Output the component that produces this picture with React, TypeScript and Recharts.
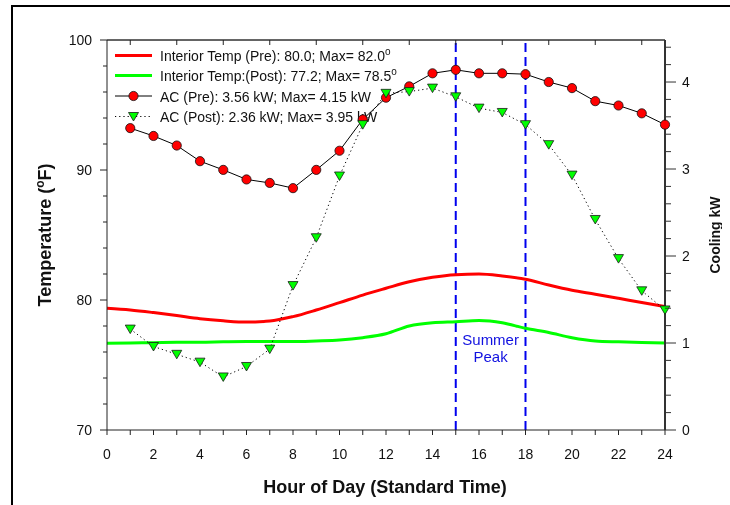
import React from 'react';
import { ComposedChart, Line, XAxis, YAxis, ReferenceLine, ReferenceArea } from 'recharts';

const FONT = '"Liberation Sans", Arial, Helvetica, sans-serif';

const hours = [0, 1, 2, 3, 4, 5, 6, 7, 8, 9, 10, 11, 12, 13, 14, 15, 16, 17, 18, 19, 20, 21, 22, 23, 24];
const tempPre = [79.36, 79.23, 79.03, 78.8, 78.56, 78.4, 78.3, 78.38, 78.72, 79.23, 79.8, 80.38, 80.9, 81.4, 81.75, 81.95, 82.0, 81.85, 81.6, 81.15, 80.75, 80.45, 80.13, 79.8, 79.49];
const tempPost = [76.67, 76.7, 76.72, 76.75, 76.75, 76.78, 76.8, 76.8, 76.8, 76.85, 76.92, 77.1, 77.4, 78.0, 78.25, 78.33, 78.42, 78.25, 77.82, 77.5, 77.1, 76.85, 76.78, 76.73, 76.69];
// AC values for hours 1..24
const acPre = [3.47, 3.38, 3.27, 3.09, 2.99, 2.88, 2.84, 2.78, 2.99, 3.21, 3.57, 3.82, 3.95, 4.1, 4.14, 4.1, 4.1, 4.09, 4.0, 3.93, 3.78, 3.73, 3.64, 3.51];
const acPost = [1.16, 0.96, 0.87, 0.78, 0.61, 0.73, 0.93, 1.66, 2.21, 2.92, 3.51, 3.87, 3.89, 3.93, 3.83, 3.7, 3.65, 3.51, 3.28, 2.93, 2.42, 1.97, 1.6, 1.38];

const xTicks = hours;
const xLabelTicks = [0, 2, 4, 6, 8, 10, 12, 14, 16, 18, 20, 22, 24];
const topTicks = [1, 3, 5, 7, 9, 11, 13, 15, 17, 19, 21, 23];
const tempTicks = [70, 72, 74, 76, 78, 80, 82, 84, 86, 88, 90, 92, 94, 96, 98, 100];
const tempLabelTicks = [70, 80, 90, 100];
const kwTicks = [0, 0.2, 0.4, 0.6, 0.8, 1, 1.2, 1.4, 1.6, 1.8, 2, 2.2, 2.4, 2.6, 2.8, 3, 3.2, 3.4, 3.6, 3.8, 4, 4.2, 4.4];
const kwLabelTicks = [0, 1, 2, 3, 4];
const tempDomain = [70, 100];
const kwDomain = [0, 4.483];
const peakStart = 15;
const peakEnd = 18;

const legendLabels = [
  ['Interior Temp (Pre): 80.0; Max= 82.0', 'o'],
  ['Interior Temp:(Post): 77.2; Max= 78.5', 'o'],
  ['AC (Pre): 3.56 kW; Max= 4.15 kW', ''],
  ['AC (Post): 2.36 kW; Max= 3.95 kW', ''],
];

const data = hours.map((h, i) => ({
  hour: h,
  tempPre: tempPre[i],
  tempPost: tempPost[i],
  acPre: i === 0 ? null : acPre[i - 1],
  acPost: i === 0 ? null : acPost[i - 1],
}));

const AX = '#222';

function BottomTick(props: any) {
  const { x, y, payload } = props;
  const v = payload.value;
  return (
    <g>
      <line x1={x} y1={y} x2={x} y2={y + 5} stroke={AX} strokeWidth={1} />
      {xLabelTicks.includes(v) && (
        <text x={x} y={y + 28.5} textAnchor="middle" fontSize={14} fontFamily={FONT} fill="#111">{v}</text>
      )}
    </g>
  );
}

function TopTick(props: any) {
  const { x, y } = props;
  return <line x1={x} y1={y} x2={x} y2={y + 5} stroke={AX} strokeWidth={1} />;
}

function LeftTick(props: any) {
  const { x, y, payload } = props;
  const v = payload.value;
  const major = tempLabelTicks.includes(v);
  return (
    <g>
      <line x1={x} y1={y} x2={x - (major ? 7 : 4)} y2={y} stroke={AX} strokeWidth={1} />
      {major && (
        <text x={x - 15} y={y + 5} textAnchor="end" fontSize={14} fontFamily={FONT} fill="#111">{v}</text>
      )}
    </g>
  );
}

function RightTick(props: any) {
  const { x, y, payload } = props;
  const v = payload.value;
  const major = Math.abs(v - Math.round(v)) < 1e-6 && kwLabelTicks.includes(Math.round(v));
  return (
    <g>
      <line x1={x} y1={y} x2={x + (major ? 11 : 6)} y2={y} stroke="#333" strokeWidth={1} />
      {major && (
        <text x={x + 17} y={y + 5} textAnchor="start" fontSize={14} fontFamily={FONT} fill="#111">{Math.round(v)}</text>
      )}
    </g>
  );
}

function TriangleDot(props: any) {
  const { cx, cy, index } = props;
  if (cx == null || cy == null || isNaN(cx) || isNaN(cy)) return <g key={`t${index}`} />;
  return (
    <path
      key={`t${index}`}
      d={`M${cx - 5},${cy - 4}L${cx + 5},${cy - 4}L${cx},${cy + 4.5}Z`}
      fill="#00ff00"
      stroke="#1a1a1a"
      strokeWidth={0.8}
    />
  );
}

function CircleDot(props: any) {
  const { cx, cy, index } = props;
  if (cx == null || cy == null || isNaN(cx) || isNaN(cy)) return <g key={`c${index}`} />;
  return <circle key={`c${index}`} cx={cx} cy={cy} r={4.6} fill="#ff0000" stroke="#111" strokeWidth={0.8} />;
}

function PeakLabel(props: any) {
  const vb = props.viewBox || {};
  const cx = vb.x + vb.width / 2;
  return (
    <g>
      <text x={cx} y={vb.y + 304.5} textAnchor="middle" fontSize={15} fontFamily={FONT} fill="#1010e0">Summer</text>
      <text x={cx} y={vb.y + 321.5} textAnchor="middle" fontSize={15} fontFamily={FONT} fill="#1010e0">Peak</text>
    </g>
  );
}

// Overlay drawn in page coordinates
function Overlay() {
  const rows = [55.5, 75.5, 96, 116.5];
  return (
    <svg width={730} height={505} style={{ position: 'absolute', left: 0, top: 0 }}>
      {/* legend */}
      <line x1={115} y1={rows[0]} x2={152} y2={rows[0]} stroke="#ff0000" strokeWidth={3} />
      <line x1={115} y1={rows[1]} x2={152} y2={rows[1]} stroke="#00ff00" strokeWidth={3} />
      <line x1={115} y1={rows[2]} x2={152} y2={rows[2]} stroke="#000" strokeWidth={1} />
      <circle cx={133.5} cy={rows[2]} r={4.6} fill="#ff0000" stroke="#111" strokeWidth={0.8} />
      <line x1={115} y1={rows[3]} x2={152} y2={rows[3]} stroke="#000" strokeWidth={1} strokeDasharray="1.2 3" />
      <path d={`M${128.5},${rows[3] - 4}L${138.5},${rows[3] - 4}L${133.5},${rows[3] + 4.5}Z`} fill="#00ff00" stroke="#1a1a1a" strokeWidth={0.8} />
      {legendLabels.map((l, i) => (
        <text key={i} x={160} y={rows[i] + 5.5} fontSize={14} fontFamily={FONT} fill="#111">
          {l[0]}
          {l[1] && <tspan fontSize={10} dy={-6}>{l[1]}</tspan>}
        </text>
      ))}
      {/* axis titles */}
      <text x={385} y={493} textAnchor="middle" fontSize={18} fontWeight="bold" fontFamily={FONT} fill="#111">
        Hour of Day (Standard Time)
      </text>
      <text x={51} y={235} textAnchor="middle" fontSize={18} fontWeight="bold" fontFamily={FONT} fill="#111" transform="rotate(-90 51 235)">
        Temperature (<tspan fontSize={12} dy={-7}>o</tspan><tspan dy={7}>F)</tspan>
      </text>
      <text x={720} y={235} textAnchor="middle" fontSize={14} fontWeight="bold" fontFamily={FONT} fill="#111" transform="rotate(-90 720 235)">
        Cooling kW
      </text>
    </svg>
  );
}

export default function App() {
  return (
    <div style={{ position: 'relative', width: 730, height: 505, margin: '-8px 0 0 -8px' }}>
      <div style={{ position: 'fixed', left: 11, top: 5, width: 719, height: 2, background: '#000' }} />
      <div style={{ position: 'fixed', left: 11, top: 5, width: 2, height: 500, background: '#000' }} />
      <Overlay />
      <ComposedChart
        width={730}
        height={505}
        data={data}
        margin={{ top: 39, right: 8, bottom: 45, left: 47 }}
      >
        <XAxis
          dataKey="hour"
          type="number"
          domain={[0, 24]}
          ticks={xTicks}
          interval={0}
          tickSize={0}
          tickMargin={0}
          tickLine={false}
          tick={(p: any) => <BottomTick {...p} />}
          height={30}
          axisLine={{ stroke: AX, strokeWidth: 1 }}
        />
        <XAxis
          xAxisId="top"
          orientation="top"
          dataKey="hour"
          type="number"
          domain={[0, 24]}
          ticks={topTicks}
          interval={0}
          tickSize={0}
          tickMargin={0}
          tickLine={false}
          tick={(p: any) => <TopTick {...p} />}
          height={1}
          axisLine={{ stroke: '#333', strokeWidth: 1 }}
        />
        <YAxis
          yAxisId="left"
          orientation="left"
          type="number"
          domain={tempDomain}
          ticks={tempTicks}
          interval={0}
          tickSize={0}
          tickMargin={0}
          tickLine={false}
          tick={(p: any) => <LeftTick {...p} />}
          width={60}
          axisLine={{ stroke: AX, strokeWidth: 1 }}
          allowDataOverflow
        />
        <YAxis
          yAxisId="right"
          orientation="right"
          type="number"
          domain={kwDomain}
          ticks={kwTicks}
          interval={0}
          tickSize={0}
          tickMargin={0}
          tickLine={false}
          tick={(p: any) => <RightTick {...p} />}
          width={57}
          axisLine={{ stroke: '#333', strokeWidth: 2 }}
          allowDataOverflow
        />
        <ReferenceLine yAxisId="left" y={100} stroke="#333" strokeWidth={1} />
        <ReferenceArea
          yAxisId="left"
          x1={peakStart}
          x2={peakEnd}
          y1={70}
          y2={100}
          fill="none"
          fillOpacity={0}
          stroke="none"
          label={(p: any) => <PeakLabel {...p} />}
        />
        <ReferenceLine yAxisId="left" x={peakStart} stroke="#0000ee" strokeWidth={2} strokeDasharray="9 5" />
        <ReferenceLine yAxisId="left" x={peakEnd} stroke="#0000ee" strokeWidth={2} strokeDasharray="9 5" />
        <Line
          yAxisId="left"
          dataKey="tempPre"
          type="monotone"
          stroke="#ff0000"
          strokeWidth={3}
          dot={false}
          activeDot={false}
          isAnimationActive={false}
        />
        <Line
          yAxisId="left"
          dataKey="tempPost"
          type="monotone"
          stroke="#00ff00"
          strokeWidth={3}
          dot={false}
          activeDot={false}
          isAnimationActive={false}
        />
        <Line
          yAxisId="right"
          dataKey="acPre"
          type="linear"
          stroke="#000"
          strokeWidth={1}
          dot={(p: any) => <CircleDot key={`c${p.index}`} {...p} />}
          activeDot={false}
          isAnimationActive={false}
        />
        <Line
          yAxisId="right"
          dataKey="acPost"
          type="linear"
          stroke="#000"
          strokeWidth={1}
          strokeDasharray="1.2 3"
          dot={(p: any) => <TriangleDot key={`t${p.index}`} {...p} />}
          activeDot={false}
          isAnimationActive={false}
        />
      </ComposedChart>
    </div>
  );
}
